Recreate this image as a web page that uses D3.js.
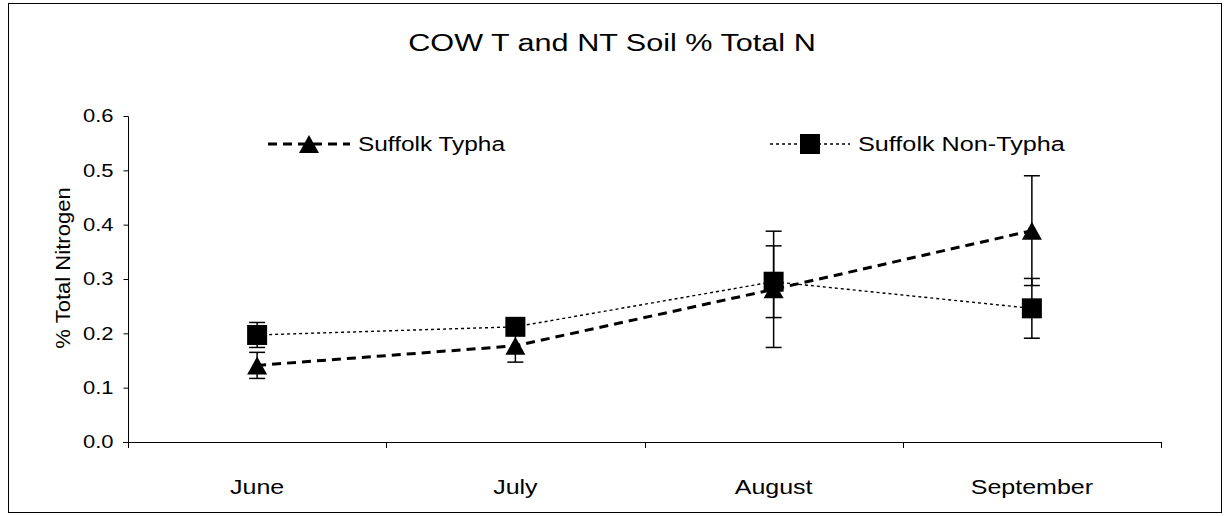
<!DOCTYPE html>
<html><head><meta charset="utf-8">
<script src="https://cdn.jsdelivr.net/npm/d3@7"></script>
<style>body{margin:0;background:#fff;} svg{display:block;font-family:"Liberation Sans",Arial,sans-serif;}</style>
</head><body>
<script>
const months = ["June","July","August","September"];
const typha = [0.141, 0.177, 0.281, 0.389];
const typhaErr = [0.024, 0.030, 0.107, 0.101];
const nonTypha = [0.197, 0.212, 0.295, 0.246];
const nonTyphaErr = [0.023, 0.015, 0.066, 0.055];
const yTicks = [0,0.1,0.2,0.3,0.4,0.5,0.6];
const seriesNames = ["Suffolk Typha","Suffolk Non-Typha"];

const W=1225,H=516;
const FONT="Liberation Sans, Arial, sans-serif";
const svg=d3.select("body").append("svg").attr("width",W).attr("height",H);
svg.append("rect").attr("x",8.5).attr("y",3.5).attr("width",1213).attr("height",509).attr("fill","#fff").attr("stroke","#000").attr("stroke-width",1);

const x=d3.scaleBand().domain(months).range([128,1161]);
const y=d3.scaleLinear().domain([0,0.6]).range([442,116]);

function stretch(sel,k){
  sel.each(function(){
    const w=this.getComputedTextLength();
    d3.select(this).attr("textLength",w*k).attr("lengthAdjust","spacingAndGlyphs");
  });
}

svg.append("text").attr("x",612).attr("y",51).attr("text-anchor","middle").attr("font-size",23)
  .text("COW T and NT Soil % Total N").call(stretch,1.33);

// axes
const ya=svg.append("g").attr("transform","translate(128.5,0)")
  .call(d3.axisLeft(y).tickValues(yTicks).tickFormat(d3.format(".1f")).tickSize(5).tickPadding(10));
ya.attr("font-family",FONT);
ya.selectAll("text").attr("font-size",18).attr("fill","#000").call(stretch,1.22);
ya.select(".domain").attr("stroke","#000").attr("d","M0,116.5V442.5");
const xa=svg.append("g").attr("transform","translate(0,442.5)")
  .call(d3.axisBottom(x).tickSize(0).tickPadding(37));
xa.attr("font-family",FONT);
xa.selectAll("text").attr("font-size",20).attr("fill","#000").call(stretch,1.25);
xa.select(".domain").attr("stroke","#000").attr("d","M123,0H1161");
const bounds=[...months.map(m=>x(m)),x(months[months.length-1])+x.bandwidth()];
svg.append("g").selectAll("line").data(bounds).join("line")
  .attr("x1",d=>Math.round(d)+0.5).attr("x2",d=>Math.round(d)+0.5).attr("y1",442).attr("y2",448).attr("stroke","#000");

svg.append("text").attr("transform","translate(70,268) rotate(-90)").attr("text-anchor","middle").attr("font-size",21)
  .text("% Total Nitrogen").call(stretch,1.05);

const cx=m=>x(m)+x.bandwidth()/2;
const line=d3.line().x((d,i)=>cx(months[i])).y(d=>y(d));

svg.append("path").datum(nonTypha).attr("d",line).attr("fill","none").attr("stroke","#000").attr("stroke-width",1.4).attr("stroke-dasharray","3,3");
svg.append("path").datum(typha).attr("d",line).attr("fill","none").attr("stroke","#000").attr("stroke-width",3).attr("stroke-dasharray","9,6");

function errBars(vals,errs){
  const g=svg.append("g").attr("stroke","#000").attr("stroke-width",1.5);
  vals.forEach((v,i)=>{
    const px=cx(months[i]);
    const y1=y(v+errs[i]),y2=y(v-errs[i]);
    g.append("line").attr("x1",px).attr("x2",px).attr("y1",y1).attr("y2",y2);
    g.append("line").attr("x1",px-8).attr("x2",px+8).attr("y1",y1).attr("y2",y1);
    g.append("line").attr("x1",px-8).attr("x2",px+8).attr("y1",y2).attr("y2",y2);
  });
}
errBars(typha,typhaErr);
errBars(nonTypha,nonTyphaErr);

const triPath="M0,-9L10,9L-10,9Z";
svg.append("g").selectAll("path").data(typha).join("path")
  .attr("d",triPath).attr("transform",(d,i)=>`translate(${cx(months[i])},${y(d)})`).attr("fill","#000");
svg.append("g").selectAll("rect").data(nonTypha).join("rect")
  .attr("x",(d,i)=>cx(months[i])-10).attr("y",d=>y(d)-10).attr("width",20).attr("height",20).attr("fill","#000");

// legend
const lg=svg.append("g");
lg.append("line").attr("x1",268).attr("x2",350).attr("y1",144).attr("y2",144).attr("stroke","#000").attr("stroke-width",3).attr("stroke-dasharray","9,6");
lg.append("path").attr("d",triPath).attr("transform","translate(309,144)").attr("fill","#000");
lg.append("text").attr("x",358).attr("y",151).attr("font-size",20).text(seriesNames[0]).call(stretch,1.22);
lg.append("line").attr("x1",770).attr("x2",850).attr("y1",144).attr("y2",144).attr("stroke","#000").attr("stroke-width",1.4).attr("stroke-dasharray","3,3");
lg.append("rect").attr("x",800).attr("y",134).attr("width",20).attr("height",20).attr("fill","#000");
lg.append("text").attr("x",858).attr("y",151).attr("font-size",20).text(seriesNames[1]).call(stretch,1.26);
</script>
</body></html>
